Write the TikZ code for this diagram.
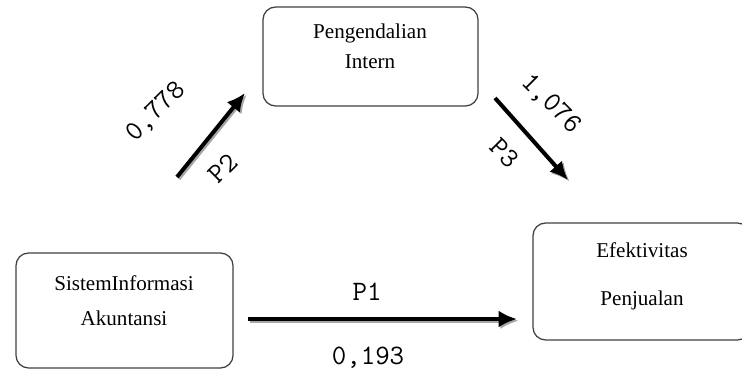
\documentclass[tikz,border=0pt]{standalone}
\usepackage{fontspec}
\setmainfont{Liberation Serif}
\usetikzlibrary{arrows.meta}

\begin{document}
\begin{tikzpicture}[x=0.025cm,y=-0.025cm,>={Latex[length=13pt,width=12pt]},
      box/.style={draw=black!75,line width=0.9pt,rounded corners=9pt,inner sep=0pt},
      box text/.style={font=\fontsize{15}{18}\selectfont,inner sep=0pt},
      path label/.style={font=\ttfamily\fontsize{20}{22}\selectfont,inner sep=0pt},
      link/.style={->,line width=2.8pt},
      link shadow/.style={link,draw=black!35,fill=black!35,
        transform canvas={xshift=1.2pt,yshift=-1.2pt}}]

    \useasboundingbox (0,0) rectangle (742,376);

    % boxes
    \node[box,minimum width=5.375cm,minimum height=2.475cm] (pi) at (370.5,56.5) {};
    \node[box,minimum width=5.425cm,minimum height=2.875cm] (sia) at (124.5,310.5) {};
    \node[box,minimum width=5.425cm,minimum height=2.925cm] (ep) at (641.5,281.5) {};

    \node[box text] (pi1) at (370,33) {Pengendalian};
    \node[box text] (pi2) at (370,62) {Intern};
    \node[box text] (sia1) at (124,283) {SistemInformasi};
    \node[box text] (sia2) at (124,318) {Akuntansi};
    \node[box text] (ep1) at (642,250) {Efektivitas};
    \node[box text] (ep2) at (642,300) {Penjualan};

    % arrow ends
    \coordinate (p1a) at (248,319);
    \coordinate (p1b) at (517,319);
    \coordinate (p2a) at (177,177);
    \coordinate (p2b) at (245,93);
    \coordinate (p3a) at (495,98);
    \coordinate (p3b) at (568,180);

    \draw[link shadow] (p1a) -- (p1b);
    \draw[link shadow] (p2a) -- (p2b);
    \draw[link shadow] (p3a) -- (p3b);
    \draw[link] (p1a) -- (p1b);
    \draw[link] (p2a) -- (p2b);
    \draw[link] (p3a) -- (p3b);

    % labels
    \node[path label] (l1) at (367,292) {P1};
    \node[path label] (v1) at (368,358) {0,193};
    \node[path label,rotate=45] (l2) at (223,168) {P2};
    \node[path label,rotate=45] (v2) at (156,112) {0,778};
    \node[path label,rotate=-45] (l3) at (505,153) {P3};
    \node[path label,rotate=-45] (v3) at (551,104) {1,076};
  \end{tikzpicture}
\end{document}
